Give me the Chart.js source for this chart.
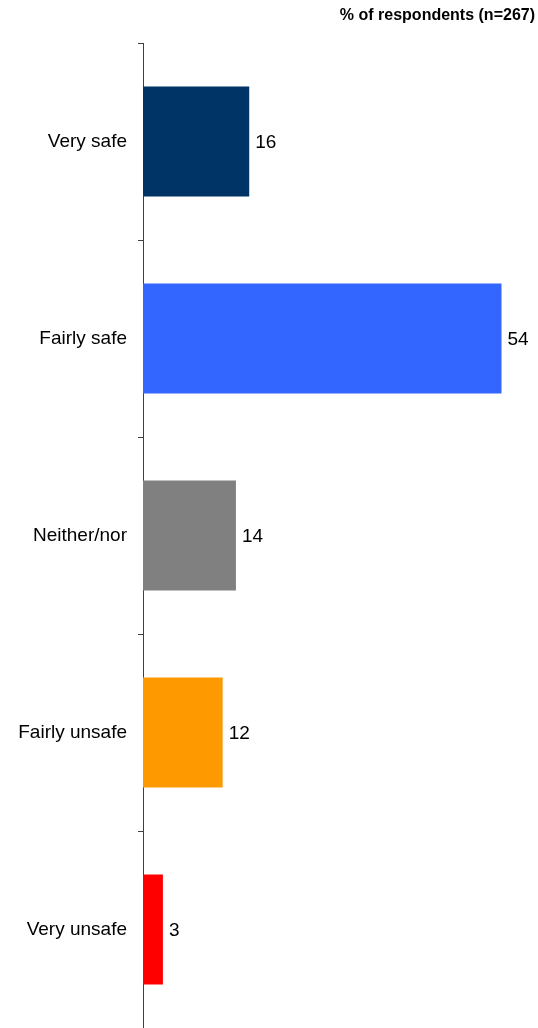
<!DOCTYPE html>
<html>
<head>
<meta charset="utf-8">
<style>
  html, body { margin: 0; padding: 0; background: #ffffff; }
  #wrap { width: 538px; height: 1028px; position: relative; }
</style>
<script src="https://cdn.jsdelivr.net/npm/chart.js@4.4.1/dist/chart.umd.min.js"></script>
</head>
<body>
<div id="wrap"><canvas id="c" width="538" height="1028"></canvas></div>
<script>
// Perceived safety ratings, % of respondents
const categories = ['Very safe', 'Fairly safe', 'Neither/nor', 'Fairly unsafe', 'Very unsafe'];
const values = [16, 54, 14, 12, 3];
const barColors = ['#003366', '#3366FF', '#808080', '#FF9900', '#FF0000'];
const headerText = '% of respondents (n=267)';

const FONT = '"Liberation Sans", Arial, Helvetica, sans-serif';

// Header text in the top-right corner
const headerPlugin = {
  id: 'header',
  afterDraw(chart) {
    const ctx = chart.ctx;
    ctx.save();
    ctx.font = 'bold 16px ' + FONT;
    ctx.fillStyle = '#000000';
    ctx.textAlign = 'right';
    ctx.textBaseline = 'middle';
    ctx.fillText(headerText, 535, 16);
    ctx.restore();
  }
};

// Value written just past the end of each bar
const valueLabels = {
  id: 'valueLabels',
  afterDatasetsDraw(chart) {
    const ctx = chart.ctx;
    const meta = chart.getDatasetMeta(0);
    ctx.save();
    ctx.font = '19px ' + FONT;
    ctx.fillStyle = '#000000';
    ctx.textAlign = 'left';
    ctx.textBaseline = 'middle';
    meta.data.forEach((bar, i) => {
      ctx.fillText(String(values[i]), bar.x + 6, bar.y + 1);
    });
    ctx.restore();
  }
};

new Chart(document.getElementById('c'), {
  type: 'bar',
  data: {
    labels: categories,
    datasets: [{
      data: values,
      backgroundColor: barColors,
      borderWidth: 0,
      barPercentage: 0.558,
      categoryPercentage: 1.0
    }]
  },
  options: {
    indexAxis: 'y',
    responsive: false,
    animation: false,
    devicePixelRatio: 1,
    layout: { padding: { top: 43, right: 0, bottom: 0, left: 0 } },
    plugins: {
      legend: { display: false },
      tooltip: { enabled: false },
      title: { display: false }
    },
    scales: {
      x: {
        display: false,
        min: 0,
        max: 59.5
      },
      y: {
        type: 'category',
        offset: true,
        border: { display: true, color: '#404040', width: 1 },
        grid: {
          offset: true,
          drawOnChartArea: false,
          drawTicks: true,
          tickLength: 5,
          color: '#404040',
          lineWidth: 1
        },
        ticks: {
          color: '#000000',
          padding: 11,
          font: { family: FONT, size: 19 }
        },
        afterFit(scale) {
          scale.width = 143;
          scale.paddingTop = 0;
          scale.paddingBottom = 0;
        }
      }
    }
  },
  plugins: [headerPlugin, valueLabels]
});
</script>
</body>
</html>
